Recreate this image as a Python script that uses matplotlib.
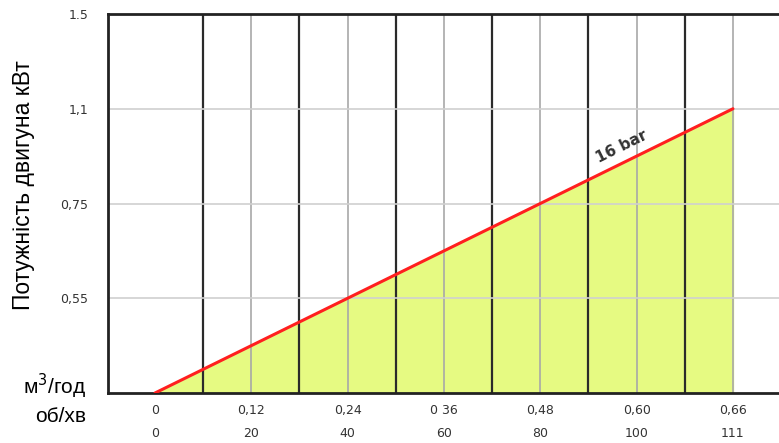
import matplotlib.pyplot as plt

# flow / speed labels under the x axis
flow_labels = ['0', '0,12', '0,24', '0 36', '0,48', '0,60', '0,66']
rpm_labels = ['0', '20', '40', '60', '80', '100', '111']
# power scale (not linear in the original, so categorical positions)
power_labels = ['', '0,55', '0,75', '1,1', '1.5']

# 16 bar curve, in label positions
curve_x = [0, 6]
curve_y = [0, 3]

fig = plt.figure(figsize=(7.79, 4.43), dpi=100)
ax = fig.add_axes([108 / 779, 1 - 393 / 443, 1 - 108 / 779, (393 - 14) / 443])
ax.set_xlim(-0.488, 6.478)
ax.set_ylim(0, 4)

# fill under curve + curve
ax.fill_between(curve_x, curve_y, 0, color='#e6fa82', zorder=1)

# grid: thin gray at label positions, thick dark between
for i in range(1, len(flow_labels)):
    ax.axvline(i, color='#a8a8a8', lw=1.2, zorder=2)
for i in range(len(flow_labels) - 1):
    ax.axvline(i + 0.5, color='#2a2a2a', lw=1.6, zorder=2)
for j in range(1, len(power_labels) - 1):
    ax.axhline(j, color='#d0d0d0', lw=1.2, zorder=2)

ax.plot(curve_x, curve_y, color='#ff1f1f', lw=2.2, zorder=3, solid_capstyle='round')
ax.text(4.85, 2.6, '16 bar', rotation=26.4, fontsize=11, color='#333333',
        fontweight='bold', ha='center', va='center', zorder=4)

# frame
for s in ['top', 'bottom', 'left']:
    ax.spines[s].set_linewidth(2)
    ax.spines[s].set_color('#222222')
ax.spines['right'].set_visible(False)

ax.set_yticks(range(len(power_labels)))
ax.set_yticklabels(power_labels, fontsize=9, color='#333333')
ax.set_xticks([])
ax.tick_params(axis='y', length=0, pad=14)

for i, (f, r) in enumerate(zip(flow_labels, rpm_labels)):
    ax.text(i, -0.18, f, ha='center', va='center', fontsize=9, color='#333333')
    ax.text(i, -0.43, r, ha='center', va='center', fontsize=9, color='#333333')

fig.text(24 / 779, 1 - 185 / 443, 'Потужність двигуна кВт', rotation=90,
         ha='center', va='center', fontsize=16.5, family='Liberation Sans')
fig.text(86 / 779, 1 - 386 / 443, 'м$^{3}$/год', ha='right', va='center',
         fontsize=15, family='Liberation Sans')
fig.text(86 / 779, 1 - 416 / 443, 'об/хв', ha='right', va='center',
         fontsize=15, family='Liberation Sans')

plt.savefig('out.png', dpi=100)
